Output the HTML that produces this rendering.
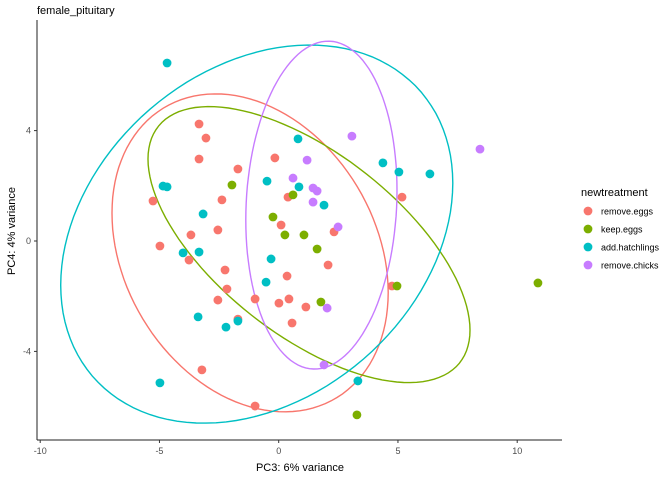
<!DOCTYPE html>
<html><head><meta charset="utf-8">
<style>
html,body{margin:0;padding:0;background:#fff;}
svg{display:block;font-family:"Liberation Sans",Arial,sans-serif;}
</style></head>
<body>
<svg id="chart" width="672" height="480" viewBox="0 0 672 480" xmlns="http://www.w3.org/2000/svg">
<text x="37" y="14" font-size="11" fill="#000">female_pituitary</text>
<g id="ellipses"></g>
<g id="points"></g>
<g id="axes"></g>
<text x="300" y="471" font-size="11" text-anchor="middle">PC3: 6% variance</text>
<text transform="translate(15,231) rotate(-90)" font-size="11" text-anchor="middle">PC4: 4% variance</text>
<g id="legend">
<text x="581" y="196" font-size="11">newtreatment</text>
</g>
</svg>
<script>
const groups = ["remove.eggs","keep.eggs","add.hatchlings","remove.chicks"];
const colors = ["#F8766D","#7CAE00","#00BFC4","#C77CFF"];
const xTicks = [-10,-5,0,5,10];
const yTicks = [-4,0,4];
const redX = [-3.34,-3.05,-3.34,-1.71,-0.16,-5.27,-2.38,0.39,5.17,0.10,-2.55,-3.68,2.32,-4.98,-3.76,-2.25,2.07,0.35,-2.17,-2.55,-0.99,0.01,0.43,1.14,-1.71,0.56,4.75,-3.22,-0.99];
const redY = [4.24,3.73,2.97,2.61,3.01,1.45,1.49,1.59,1.59,0.58,0.40,0.22,0.33,-0.18,-0.69,-1.05,-0.87,-1.27,-1.74,-2.14,-2.10,-2.25,-2.10,-2.39,-2.83,-2.97,-1.63,-4.67,-5.98];
const greenX = [-1.96,0.60,-0.24,0.26,1.06,1.61,4.96,10.87,1.77,3.28];
const greenY = [2.03,1.67,0.87,0.22,0.22,-0.29,-1.63,-1.52,-2.21,-6.30];
const cyanX = [-4.68,0.81,4.37,5.04,6.34,-4.85,-4.68,-0.49,0.85,1.90,-3.17,-4.01,-3.34,-0.32,-0.53,-3.38,-2.21,-1.71,-4.98,3.32];
const cyanY = [6.45,3.70,2.83,2.50,2.43,1.99,1.96,2.17,1.96,1.30,0.98,-0.43,-0.40,-0.65,-1.49,-2.75,-3.12,-2.90,-5.14,-5.07];
const purpleX = [3.07,8.44,1.19,0.60,1.44,1.61,1.44,2.49,2.03,1.90];
const purpleY = [3.80,3.33,2.93,2.28,1.92,1.81,1.41,0.51,-2.43,-4.49];
// ellipse params (data units): center x, center y, sd x, sd y, correlation
const ellCX = [-1.20,1.27,-0.92,1.79];
const ellCY = [-0.43,-0.13,0.25,1.30];
const ellSX = [5.79,6.75,8.22,3.17];
const ellSY = [5.76,5.00,6.85,5.94];
const ellRho = [-0.25,-0.62,0.27,0.09];

const X0=278.7, XS=23.85, Y0=241, YS=27.6;
function sx(v){return X0+v*XS;}
function sy(v){return Y0-v*YS;}
const NS="http://www.w3.org/2000/svg";
function mk(tag,attrs,parent){const e=document.createElementNS(NS,tag);for(const k in attrs)e.setAttribute(k,attrs[k]);parent.appendChild(e);return e;}

const eg=document.getElementById('ellipses');
for(let g=0;g<4;g++){
  let d="";
  const r=ellRho[g], q=Math.sqrt(1-r*r);
  for(let i=0;i<=120;i++){
    const t=i/120*2*Math.PI;
    const x=ellCX[g]+ellSX[g]*Math.cos(t);
    const y=ellCY[g]+ellSY[g]*(r*Math.cos(t)+q*Math.sin(t));
    d+=(i?"L":"M")+sx(x).toFixed(1)+","+sy(y).toFixed(1);
  }
  const p=mk('path',{d:d+"Z",fill:"none",stroke:colors[g],"stroke-width":1.4},eg);
  
  
}
const pg=document.getElementById('points');
const xs=[redX,greenX,cyanX,purpleX], ys=[redY,greenY,cyanY,purpleY];
for(let g=0;g<4;g++){
  for(let i=0;i<xs[g].length;i++){
    const c=mk('circle',{cx:sx(xs[g][i]),cy:sy(ys[g][i]),r:4.4,fill:colors[g]},pg);
    
    
  }
}
const ax=document.getElementById('axes');
const xl=mk('line',{x1:37,y1:440,x2:562,y2:440,stroke:"#222","stroke-width":1},ax);


const yl=mk('line',{x1:37,y1:20,x2:37,y2:440,stroke:"#222","stroke-width":1},ax);


xTicks.forEach(v=>{
  const t=mk('line',{x1:sx(v),y1:440,x2:sx(v),y2:443,stroke:"#333"},ax);
  
  
  const l=mk('text',{x:sx(v),y:454,"font-size":9,"text-anchor":"middle",fill:"#4d4d4d"},ax);
  l.textContent=v;
  
  
});
yTicks.forEach(v=>{
  const t=mk('line',{x1:34,y1:sy(v),x2:37,y2:sy(v),stroke:"#333"},ax);
  
  
  const l=mk('text',{x:31,y:sy(v)+3,"font-size":9,"text-anchor":"end",fill:"#4d4d4d"},ax);
  l.textContent=v;
  
  
});
const lg=document.getElementById('legend');
groups.forEach((n,g)=>{
  const y=211+g*18;
  const c=mk('circle',{cx:588,cy:y,r:4.4,fill:colors[g]},lg);
  
  
  const t=mk('text',{x:601,y:y+3.5,"font-size":9,fill:"#000"},lg);
  t.textContent=n;
  
  
});
</script>
</body></html>
